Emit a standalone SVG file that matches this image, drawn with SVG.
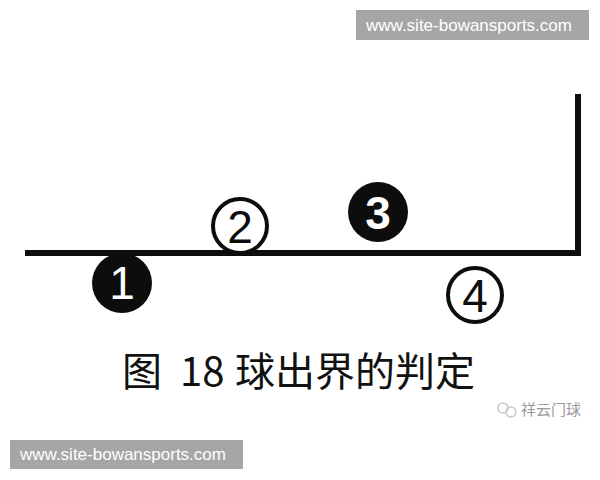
<svg xmlns="http://www.w3.org/2000/svg" width="600" height="480" viewBox="0 0 600 480">
<style>
.wm{fill:#a6a6a6}
.wmt{fill:#ffffff;font-family:"Liberation Sans","DejaVu Sans",sans-serif;font-size:17px}
.num{font-family:"Liberation Sans","DejaVu Sans",sans-serif;font-size:46px;text-anchor:middle}
.line{stroke:#0d0d0d;stroke-width:6;fill:none;stroke-linecap:square}
.cap{font-family:"Noto Sans CJK SC","Liberation Sans",sans-serif;font-size:40px;fill:#111}
</style>
<rect width="600" height="480" fill="#ffffff"/>
<g id="connectors">
<path class="line" d="M28,253 H578 V97"/>
</g>
<g id="ball1">
<circle cx="122" cy="283" r="30" fill="#0d0d0d"/>
<text class="num" x="122" y="299" fill="#ffffff">1</text>
</g>
<g id="ball2">
<circle cx="240" cy="226" r="27" fill="#ffffff" stroke="#0d0d0d" stroke-width="4"/>
<text class="num" x="240" y="243" fill="#0d0d0d">2</text>
</g>
<g id="ball3">
<circle cx="378" cy="212" r="30" fill="#0d0d0d"/>
<text class="num" x="378" y="229" fill="#ffffff" font-weight="bold">3</text>
</g>
<g id="ball4">
<circle cx="475" cy="295" r="27" fill="#ffffff" stroke="#0d0d0d" stroke-width="4"/>
<text class="num" x="475" y="312" fill="#0d0d0d">4</text>
</g>
<g id="caption">
<text class="cap" y="386"><tspan x="122">图</tspan><tspan x="180">18</tspan><tspan x="235">球出界的判定</tspan></text>
</g>
<g id="brand">
<circle cx="503" cy="408" r="5" fill="none" stroke="#c8c8c8" stroke-width="1.5"/>
<circle cx="511" cy="412" r="5" fill="none" stroke="#c8c8c8" stroke-width="1.5"/>
<text x="521" y="415" font-family="Noto Sans CJK SC,sans-serif" font-size="15" fill="#9a9a9a">祥云门球</text>
</g>
<g id="watermark-top">
<rect class="wm" x="356" y="10" width="233" height="30"/>
<text class="wmt" x="366" y="31">www.site-bowansports.com</text>
</g>
<g id="watermark-bottom">
<rect class="wm" x="10" y="440" width="233" height="29"/>
<text class="wmt" x="20" y="460">www.site-bowansports.com</text>
</g>
</svg>
